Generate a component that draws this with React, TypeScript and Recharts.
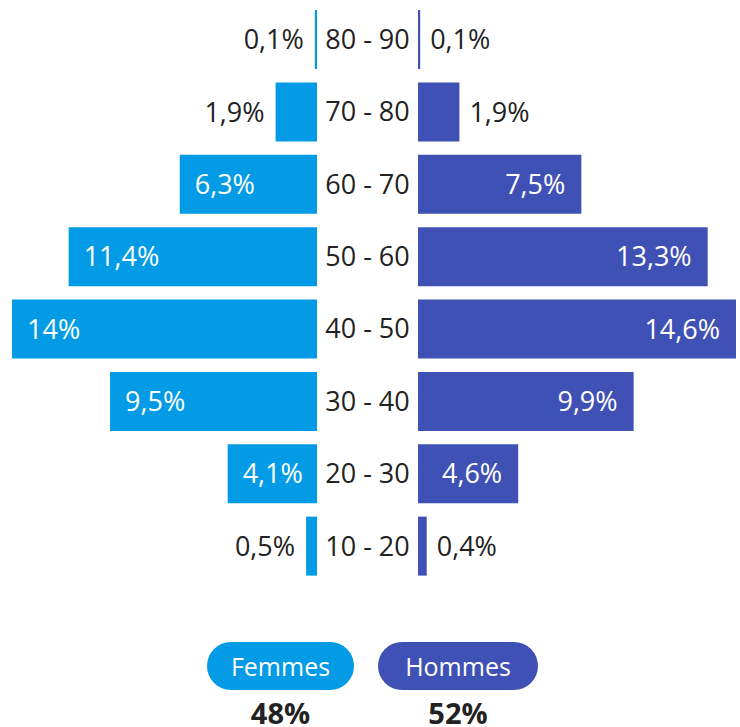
import React from 'react';
import { BarChart, Bar, XAxis, YAxis } from 'recharts';

const ageGroups = ['80 - 90', '70 - 80', '60 - 70', '50 - 60', '40 - 50', '30 - 40', '20 - 30', '10 - 20'];
const femmesValues = [0.1, 1.9, 6.3, 11.4, 14, 9.5, 4.1, 0.5];
const hommesValues = [0.1, 1.9, 7.5, 13.3, 14.6, 9.9, 4.6, 0.4];
const seriesNames = ['Femmes', 'Hommes'];
const seriesTotals = ['48%', '52%'];

const COLOR_F = '#039BE5';
const COLOR_H = '#3F51B5';
const TEXT = '#222222';
const FONT = "'Open Sans', sans-serif";

const data = ageGroups.map((age, i) => ({ age, femmes: femmesValues[i], hommes: hommesValues[i] }));

const fmt = (v: number) => String(v).replace('.', ',') + '%';

const LeftLabel = (props: any) => {
  const { x, y, width, height, value } = props;
  const left = Math.min(x, x + width);
  const cy = y + height / 2;
  const inside = value >= 4;
  return (
    <text
      x={inside ? left + 15 : left - 11}
      y={cy}
      dy="0.36em"
      textAnchor={inside ? 'start' : 'end'}
      fill={inside ? '#fff' : TEXT}
      fontSize={27}
      fontFamily={FONT}
    >
      {fmt(value)}
    </text>
  );
};

const RightLabel = (props: any) => {
  const { x, y, width, height, value } = props;
  const right = Math.max(x, x + width);
  const cy = y + height / 2;
  const inside = value >= 4;
  return (
    <text
      x={inside ? right - 16 : right + 10}
      y={cy}
      dy="0.36em"
      textAnchor={inside ? 'end' : 'start'}
      fill={inside ? '#fff' : TEXT}
      fontSize={27}
      fontFamily={FONT}
    >
      {fmt(value)}
    </text>
  );
};

const CenterTick = (props: any) => {
  const { y, payload } = props;
  return (
    <text x={50.5} y={y} dy="0.36em" textAnchor="middle" fill={TEXT} fontSize={27} fontFamily={FONT}>
      {payload.value}
    </text>
  );
};

export default function App() {
  return (
    <div style={{ position: 'absolute', left: 0, top: 0, width: 740, height: 727, background: '#fff', fontFamily: FONT, overflow: 'hidden' }}>
      <div style={{ position: 'absolute', left: 0, top: 0 }}>
        <BarChart layout="vertical" width={317} height={582} data={data} margin={{ top: 3, right: 0, bottom: 0, left: 12 }}>
          <XAxis type="number" domain={[0, 14]} reversed hide />
          <YAxis type="category" dataKey="age" hide />
          <Bar dataKey="femmes" fill={COLOR_F} barSize={59} isAnimationActive={false} label={<LeftLabel />} />
        </BarChart>
      </div>
      <div style={{ position: 'absolute', left: 317, top: 0 }}>
        <BarChart layout="vertical" width={423} height={582} data={data} margin={{ top: 3, right: 4, bottom: 0, left: 0 }}>
          <XAxis type="number" domain={[0, 14.6]} hide />
          <YAxis type="category" dataKey="age" width={101} axisLine={false} tickLine={false} tick={<CenterTick />} />
          <Bar dataKey="hommes" fill={COLOR_H} barSize={59} isAnimationActive={false} label={<RightLabel />} />
        </BarChart>
      </div>
      {seriesNames.map((name, i) => {
        const left = i === 0 ? 207 : 378;
        const w = i === 0 ? 147 : 160;
        return (
          <React.Fragment key={name}>
            <div
              style={{
                position: 'absolute', left, top: 642, width: w, height: 48, borderRadius: 24,
                background: i === 0 ? COLOR_F : COLOR_H, color: '#fff', fontSize: 25,
                lineHeight: '48px', textAlign: 'center', fontFamily: FONT,
              }}
            >
              {name}
            </div>
            <div
              style={{
                position: 'absolute', left, top: 699, width: w, textAlign: 'center',
                fontSize: 29, fontWeight: 700, color: TEXT, lineHeight: '28px', fontFamily: FONT,
              }}
            >
              {seriesTotals[i]}
            </div>
          </React.Fragment>
        );
      })}
    </div>
  );
}
